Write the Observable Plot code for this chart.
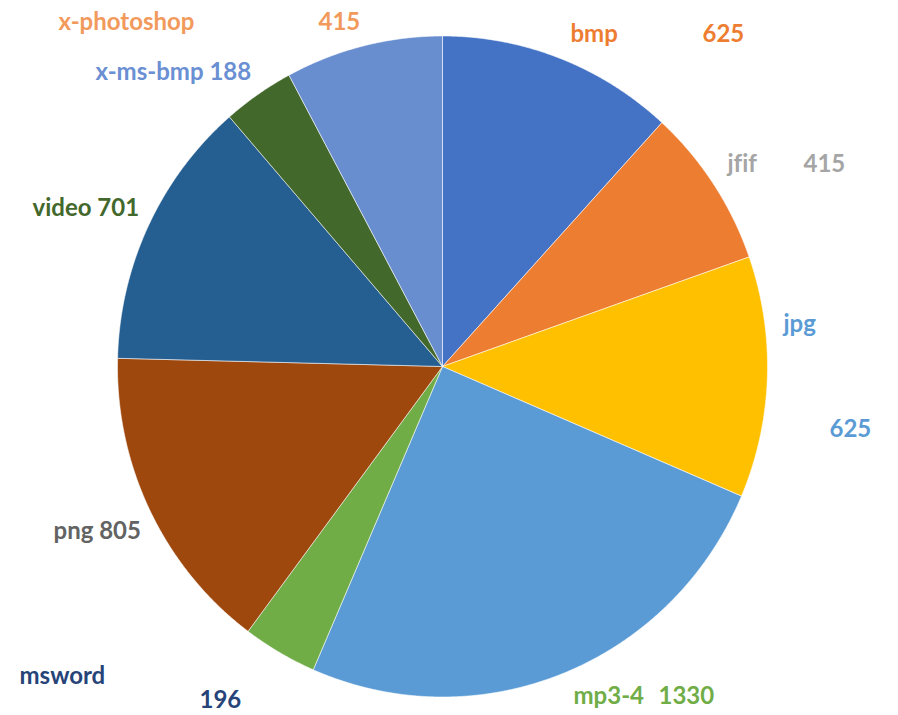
<!DOCTYPE html>
<html><head><meta charset="utf-8">
<script src="https://cdn.jsdelivr.net/npm/d3@7"></script>
<script src="https://cdn.jsdelivr.net/npm/@observablehq/plot@0.6"></script>
<style>body{margin:0;background:#fff} #chart{width:898px;height:715px} svg text{font-variant-ligatures:none}</style>
</head><body><div id="chart"></div>
<script>
// ---- data ----
const categories = ["bmp","jfif","jpg","mp3-4","msword","png","video","x-ms-bmp","x-photoshop"];
const values = [625,415,625,1330,196,805,701,188,415];
const sliceColors = ["#4472C4","#ED7D31","#FFC000","#5B9BD5","#70AD47","#9E480E","#255E91","#43682B","#698ED0"];
const labelColors = ["#ED7D31","#A5A5A5","#5B9BD5","#70AD47","#264478","#636363","#43682B","#6A8FD3","#F29A5C"];
// label text pieces (name and value may be split as in the original)
const labelTexts = [
  ["bmp", "625"], ["jfif", "415"], ["jpg", "625"], ["mp3-4", "1330"], ["msword", "196"],
  ["png 805"], ["video 701"], ["x-ms-bmp 188"], ["x-photoshop", "415"]
];
// ---- layout (pixel positions of label pieces: left edge, baseline) ----
const W = 898, H = 715, CX = 442, CY = 366, RX = 325, RY = 330.5;
const labelLayout = [
  [[570,41.5],[702,41.5]],
  [[727,171.5],[803,171.5]],
  [[783,331.5],[829,436.5]],
  [[573,703],[658,703]],
  [[19,683],[199,707]],
  [[53,538]],
  [[32,215]],
  [[95,79]],
  [[58,29.3],[318,29.3]]
];

const arcs = d3.pie().sort(null).value(d => d)(values);
const pts = [];
arcs.forEach((a, i) => {
  const cat = categories[i];
  pts.push({cat, x: 0, y: 0});
  const n = Math.max(4, Math.ceil((a.endAngle - a.startAngle) / 0.005));
  for (let k = 0; k <= n; k++) {
    const t = a.startAngle + (a.endAngle - a.startAngle) * k / n;
    pts.push({cat, x: Math.sin(t), y: Math.cos(t)});
  }
  pts.push({cat, x: 0, y: 0});
});

const labelMarks = [];
labelTexts.forEach((parts, i) => {
  const rows = parts.map((t, j) => ({
    text: t,
    x: (labelLayout[i][j][0] - CX) / RX,
    y: (CY - labelLayout[i][j][1]) / RY
  }));
  labelMarks.push(Plot.text(rows, {
    x: "x", y: "y", text: "text", fill: labelColors[i],
    textAnchor: "start", lineAnchor: "bottom",
    fontSize: 24, fontWeight: "bold", fontFamily: "Lato"
  }));
});

const chart = Plot.plot({
  width: W, height: H,
  margin: 0,
  x: {domain: [-CX / RX, (W - CX) / RX], axis: null},
  y: {domain: [-(H - CY) / RY, CY / RY], axis: null},
  color: {domain: categories, range: sliceColors},
  style: {background: "white", overflow: "visible"},
  marks: [
    Plot.line(pts, {x: "x", y: "y", z: "cat", fill: "cat", stroke: "white",
      strokeWidth: 1, strokeOpacity: 0.55, curve: "linear"}),
    ...labelMarks
  ]
});
document.getElementById("chart").append(chart);
</script>
</body></html>
